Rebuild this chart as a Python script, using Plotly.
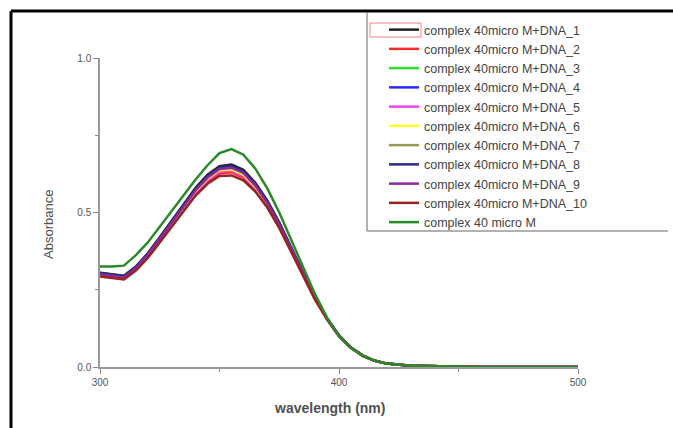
import plotly.graph_objects as go

wavelength = [300, 305, 310, 315, 320, 325, 330, 335, 340, 345, 350, 355, 360, 365, 370,
              375, 380, 385, 390, 395, 400, 405, 410, 415, 420, 430, 440, 450, 460, 480, 500]

names = [
    "complex 40micro M+DNA_1", "complex 40micro M+DNA_2", "complex 40micro M+DNA_3",
    "complex 40micro M+DNA_4", "complex 40micro M+DNA_5", "complex 40micro M+DNA_6",
    "complex 40micro M+DNA_7", "complex 40micro M+DNA_8", "complex 40micro M+DNA_9",
    "complex 40micro M+DNA_10", "complex 40 micro M",
]
colors = ["#222222", "#ff2a2a", "#33dd33", "#2a2aff", "#ee44ee", "#ffff22",
          "#999955", "#2a2a88", "#882a99", "#992222", "#2a8a2a"]

dna_1 = [.305, .300, .295, .325, .368, .420, .473, .528, .580, .622, .650, .655, .638, .596, .538,
         .468, .388, .305, .225, .158, .102, .063, .037, .020, .011, .004, .002, .001, 0, 0, 0]
dna_2 = [.295, .290, .285, .315, .356, .407, .458, .511, .560, .599, .626, .630, .613, .575, .521,
         .453, .376, .296, .218, .154, .100, .062, .036, .020, .011, .004, .002, .001, 0, 0, 0]
dna_3 = [.300, .295, .290, .320, .361, .412, .465, .519, .570, .610, .637, .640, .623, .583, .528,
         .459, .380, .300, .221, .156, .101, .062, .036, .020, .011, .004, .002, .001, 0, 0, 0]
dna_4 = [.302, .297, .292, .322, .364, .415, .468, .522, .573, .614, .641, .645, .628, .588, .531,
         .462, .383, .301, .222, .156, .101, .062, .036, .020, .011, .004, .002, .001, 0, 0, 0]
dna_5 = [.298, .292, .287, .317, .359, .410, .461, .515, .565, .605, .632, .635, .618, .579, .525,
         .456, .378, .298, .220, .155, .100, .062, .036, .020, .011, .004, .002, .001, 0, 0, 0]
dna_6 = [.300, .295, .290, .320, .361, .413, .465, .519, .570, .610, .637, .640, .623, .583, .528,
         .459, .380, .300, .221, .156, .101, .062, .036, .020, .011, .004, .002, .001, 0, 0, 0]
dna_7 = [.302, .297, .292, .322, .364, .415, .468, .522, .573, .614, .641, .645, .628, .588, .531,
         .462, .383, .301, .222, .156, .101, .062, .036, .020, .011, .004, .002, .001, 0, 0, 0]
dna_8 = [.304, .299, .294, .324, .366, .418, .471, .525, .576, .618, .646, .650, .633, .592, .535,
         .465, .385, .303, .223, .157, .102, .063, .037, .020, .011, .004, .002, .001, 0, 0, 0]
dna_9 = [.300, .295, .290, .320, .363, .414, .467, .521, .572, .613, .641, .645, .628, .587, .531,
         .461, .382, .301, .222, .156, .101, .062, .036, .020, .011, .004, .002, .001, 0, 0, 0]
dna_10 = [.293, .288, .283, .312, .353, .403, .454, .506, .555, .593, .618, .620, .604, .568, .516,
          .450, .374, .295, .218, .154, .100, .062, .036, .020, .011, .004, .002, .001, 0, 0, 0]
complex_only = [.325, .325, .328, .362, .403, .454, .505, .556, .607, .653, .692, .705, .687, .642, .578,
                .500, .410, .320, .235, .160, .100, .062, .036, .020, .011, .004, .002, .001, 0, 0, 0]

series = [dna_1, dna_2, dna_3, dna_4, dna_5, dna_6, dna_7, dna_8, dna_9, dna_10, complex_only]

x_ticks = [300, 400, 500]
y_ticks = [0.0, 0.5, 1.0]

fig = go.Figure()
for name, col, ys in zip(names, colors, series):
    fig.add_trace(go.Scatter(x=wavelength, y=ys, mode="lines", name=name,
                             line=dict(color=col, width=2.5)))

L, R, T, B = 100, 95, 58, 61
W, H = 673, 428
pw, ph = W - L - R, H - T - B


def px(xp):
    return (xp - L) / pw


def py(yp):
    return (H - B - yp) / ph


font_family = "Liberation Sans, Arial, sans-serif"
axis_font = dict(family=font_family, size=10, color="#555555")
fig.update_layout(
    width=W, height=H,
    margin=dict(l=L, r=R, t=T, b=B),
    paper_bgcolor="white", plot_bgcolor="white",
    showlegend=True,
    legend=dict(x=px(384), y=py(15), xanchor="left", yanchor="top",
                bgcolor="rgba(255,255,255,0)", borderwidth=0, maxheight=420,
                font=dict(family=font_family, size=12.5, color="#444444"),
                tracegroupgap=0, itemwidth=30),
    xaxis=dict(range=[300, 500], tickvals=x_ticks, ticks="outside", ticklen=5,
               tickcolor="#888888", showline=True, linecolor="#999999", linewidth=1.5,
               showgrid=False, zeroline=False, tickfont=axis_font,
               minor=dict(tickvals=[350, 450], ticks="outside", ticklen=3, tickcolor="#888888")),
    yaxis=dict(range=[0, 1.0], tickvals=y_ticks, tickformat=".1f", ticks="outside", ticklen=5,
               tickcolor="#888888", showline=True, linecolor="#999999", linewidth=1.5,
               showgrid=False, zeroline=False, tickfont=axis_font,
               minor=dict(tickvals=[0.25, 0.75], ticks="outside", ticklen=3, tickcolor="#888888")),
    annotations=[
        dict(text="wavelength (nm)", xref="paper", yref="paper", x=px(329), y=py(408),
             xanchor="center", yanchor="middle", showarrow=False,
             font=dict(family=font_family, size=14, color="#505050", weight="bold")),
        dict(text="Absorbance", xref="paper", yref="paper", x=px(48), y=py(225),
             xanchor="center", yanchor="middle", showarrow=False, textangle=-90,
             font=dict(family=font_family, size=13, color="#505050")),
    ],
    shapes=[
        dict(type="line", xref="paper", yref="paper", x0=px(11), x1=px(673), y0=py(11), y1=py(11),
             line=dict(color="black", width=3)),
        dict(type="line", xref="paper", yref="paper", x0=px(11), x1=px(11), y0=py(11), y1=py(428),
             line=dict(color="black", width=3)),
        dict(type="line", xref="paper", yref="paper", x0=px(367), x1=px(367), y0=py(13), y1=py(231),
             line=dict(color="#999999", width=1.5)),
        dict(type="line", xref="paper", yref="paper", x0=px(367), x1=px(668), y0=py(231), y1=py(231),
             line=dict(color="#999999", width=1.5)),
        dict(type="rect", xref="paper", yref="paper", x0=px(370), x1=px(421), y0=py(23), y1=py(37),
             line=dict(color="#f08080", width=1)),
    ],
)

fig.write_html("out.html", config={"displayModeBar": False},
               post_script="document.body.style.margin='0';document.body.style.overflow='hidden';")
